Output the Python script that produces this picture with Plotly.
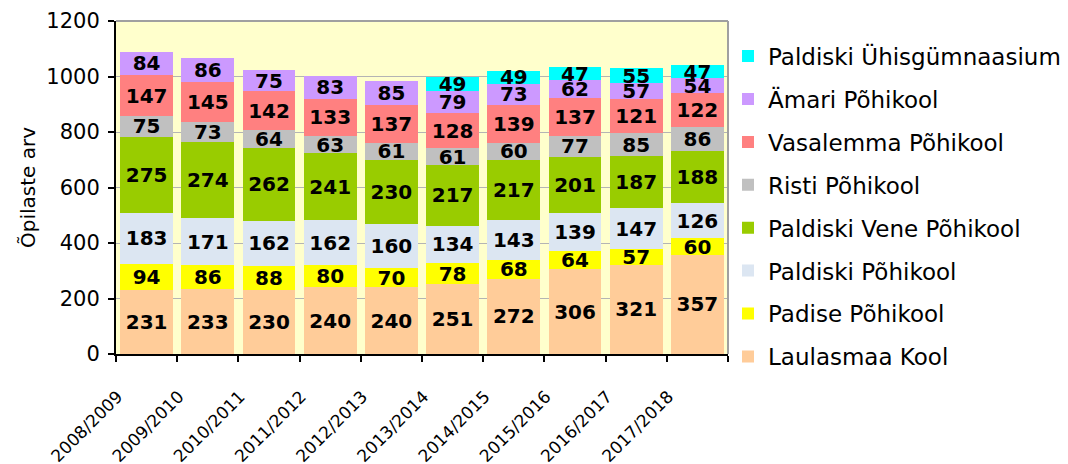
import plotly.graph_objects as go

years = ["2008/2009", "2009/2010", "2010/2011", "2011/2012", "2012/2013",
         "2013/2014", "2014/2015", "2015/2016", "2016/2017", "2017/2018"]

laulasmaa = [231, 233, 230, 240, 240, 251, 272, 306, 321, 357]
padise = [94, 86, 88, 80, 70, 78, 68, 64, 57, 60]
paldiski_pk = [183, 171, 162, 162, 160, 134, 143, 139, 147, 126]
paldiski_vene = [275, 274, 262, 241, 230, 217, 217, 201, 187, 188]
risti = [75, 73, 64, 63, 61, 61, 60, 77, 85, 86]
vasalemma = [147, 145, 142, 133, 137, 128, 139, 137, 121, 122]
amari = [84, 86, 75, 83, 85, 79, 73, 62, 57, 54]
uhisgymn = [None, None, None, None, None, 49, 49, 47, 55, 47]

series = [
    ("Laulasmaa Kool", laulasmaa, "#FFCC99"),
    ("Padise Põhikool", padise, "#FFFF00"),
    ("Paldiski Põhikool", paldiski_pk, "#DCE6F2"),
    ("Paldiski Vene Põhikool", paldiski_vene, "#99CC00"),
    ("Risti Põhikool", risti, "#C0C0C0"),
    ("Vasalemma Põhikool", vasalemma, "#FF8080"),
    ("Ämari Põhikool", amari, "#CC99FF"),
    ("Paldiski Ühisgümnaasium", uhisgymn, "#00FFFF"),
]

FONT = "DejaVu Sans"

fig = go.Figure()
n = len(series)
for i, (name, vals, color) in enumerate(series):
    fig.add_trace(go.Bar(
        x=years, y=vals, name=name, legendgroup=name, legendrank=n - i,
        marker=dict(color=color, line=dict(width=0)),
        texttemplate="%{y}", textposition="inside", insidetextanchor="middle",
        textangle=0, constraintext="none",
        textfont=dict(family=FONT, size=20, color="black", weight="bold"),
        hoverinfo="skip",
    ))

# page body has an 8px default margin, so the figure is sized/offset to compensate
fig.update_layout(
    barmode="stack",
    bargap=0.14,
    width=1060, height=456,
    margin=dict(l=108, r=340, t=13, b=110, autoexpand=False),
    paper_bgcolor="white",
    plot_bgcolor="#FFFFCC",
    font=dict(family=FONT, size=19, color="black"),
    legend=dict(
        traceorder="grouped",
        tracegroupgap=10,
        maxheight=1000,
        itemwidth=30,
        x=1.0, y=0.959, xanchor="left", yanchor="top",
        font=dict(family=FONT, size=23, color="black"),
        bgcolor="rgba(0,0,0,0)",
    ),
    showlegend=True,
)

fig.update_yaxes(
    range=[0, 1200], dtick=200, automargin=False,
    showgrid=True, gridcolor="#B4B4B4", gridwidth=1,
    showline=True, linecolor="black", linewidth=2,
    ticks="outside", ticklen=6, tickcolor="black", tickwidth=2,
    tickfont=dict(family=FONT, size=21),
    ticklabelstandoff=4,
    title=dict(text="Õpilaste arv", font=dict(family=FONT, size=20), standoff=5),
    zeroline=False,
)
fig.update_xaxes(
    automargin=False,
    showline=True, linecolor="black", linewidth=2,
    ticks="outside", ticklen=6, tickcolor="black", tickwidth=2,
    tickson="boundaries", tickangle=-45,
    tickfont=dict(family=FONT, size=17),
    ticklabelshift=-29, ticklabelstandoff=24,
    showgrid=False,
)

fig.add_shape(type="line", xref="paper", yref="paper", x0=0, x1=1, y0=1, y1=1,
              line=dict(color="#A0A0A0", width=2))
fig.add_shape(type="line", xref="paper", yref="paper", x0=1, x1=1, y0=0, y1=1,
              line=dict(color="#A0A0A0", width=2))

fig.write_html("out.html")
